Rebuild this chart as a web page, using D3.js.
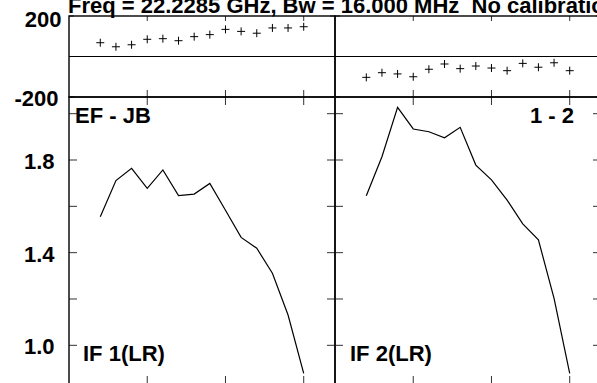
<!DOCTYPE html>
<html>
<head>
<meta charset="utf-8">
<script src="https://cdn.jsdelivr.net/npm/d3@7"></script>
<style>
  body { margin: 0; background: #fff; }
  svg { display: block; }
  text { font-family: "Liberation Sans", Arial, sans-serif; font-weight: bold; fill: #000; }
</style>
</head>
<body>
<div id="chart"></div>
<script>
// channel numbers (2..15) plotted in each IF panel
const channels = [2, 3, 4, 5, 6, 7, 8, 9, 10, 11, 12, 13, 14, 15];

// phase (deg)
const phaseIF1 = [68, 48, 58, 85, 88, 78, 98, 108, 134, 124, 115, 141, 141, 147];
const phaseIF2 = [-103, -80, -86, -100, -63, -37, -60, -47, -57, -70, -34, -53, -31, -70];

// amplitude
const ampIF1 = [1.555, 1.711, 1.764, 1.678, 1.757, 1.646, 1.653, 1.699, 1.583, 1.466, 1.419, 1.311, 1.131, 0.879];
const ampIF2 = [1.646, 1.814, 2.027, 1.934, 1.922, 1.896, 1.941, 1.778, 1.714, 1.627, 1.524, 1.455, 1.203, 0.879];

const phaseTicks = [-200, 200];
const ampTicks = [1.0, 1.2, 1.4, 1.6, 1.8, 2.0];
const ampLabels = [1.0, 1.4, 1.8];
const chanTicks = [5, 10, 15];

const panelNames = ["IF 1(LR)", "IF 2(LR)"];
const title = "Freq = 22.2285 GHz, Bw = 16.000 MHz  No calibration applied";

const W = 597, H = 383;
const svg = d3.select("#chart").append("svg")
  .attr("width", W).attr("height", H);

// layout
const left = 69, panelW = 266;
const phTop = 16, phBot = 97, ampBot = 384;

const yPh = d3.scaleLinear().domain([-200, 200]).range([phBot, phTop]);
const yAmp = d3.scaleLinear().domain([0.833, 2.072]).range([ampBot, phBot]);

// title (top is clipped in the original plot)
svg.append("text")
  .attr("x", 68).attr("y", 12.5)
  .style("font-size", "22px")
  .style("white-space", "pre")
  .text(title);

const panels = [
  { phase: phaseIF1, amp: ampIF1, name: panelNames[0] },
  { phase: phaseIF2, amp: ampIF2, name: panelNames[1] }
];

panels.forEach((p, i) => {
  const x0 = left + i * panelW;
  const x = d3.scaleLinear().domain([0, 17]).range([x0, x0 + panelW]);
  const g = svg.append("g");

  // ticks - channel axis
  const tickG = g.append("g").attr("stroke", "#333").attr("stroke-width", 1);
  chanTicks.forEach(c => {
    tickG.append("line").attr("x1", x(c)).attr("x2", x(c)).attr("y1", phTop).attr("y2", phTop + 5);
    tickG.append("line").attr("x1", x(c)).attr("x2", x(c)).attr("y1", phBot).attr("y2", phBot - 7);
    tickG.append("line").attr("x1", x(c)).attr("x2", x(c)).attr("y1", phBot).attr("y2", phBot + 8);
    tickG.append("line").attr("x1", x(c)).attr("x2", x(c)).attr("y1", ampBot).attr("y2", ampBot - 8);
  });
  // value ticks on both sides
  phaseTicks.forEach(v => {
    tickG.append("line").attr("x1", x0).attr("x2", x0 + 5).attr("y1", yPh(v)).attr("y2", yPh(v));
    tickG.append("line").attr("x1", x0 + panelW).attr("x2", x0 + panelW - 5).attr("y1", yPh(v)).attr("y2", yPh(v));
  });
  ampTicks.forEach(v => {
    tickG.append("line").attr("x1", x0).attr("x2", x0 + 8).attr("y1", yAmp(v)).attr("y2", yAmp(v));
    tickG.append("line").attr("x1", x0 + panelW).attr("x2", x0 + panelW - 8).attr("y1", yAmp(v)).attr("y2", yAmp(v));
  });

  // frames
  g.append("rect").attr("x", x0).attr("y", phTop).attr("width", panelW).attr("height", phBot - phTop)
    .attr("fill", "none").attr("stroke", "#000").attr("stroke-width", 1.4);
  g.append("rect").attr("x", x0).attr("y", phBot).attr("width", panelW).attr("height", ampBot - phBot)
    .attr("fill", "none").attr("stroke", "#000").attr("stroke-width", 1.4);

  // zero phase line
  g.append("line").attr("x1", x0).attr("x2", x0 + panelW)
    .attr("y1", yPh(0)).attr("y2", yPh(0))
    .attr("stroke", "#000").attr("stroke-width", 1.1);

  // phase pluses
  g.selectAll(".ph").data(p.phase).enter().append("path")
    .attr("transform", (d, k) => "translate(" + x(channels[k]) + "," + yPh(d) + ")")
    .attr("d", "M-4,0H4M0,-4V4")
    .attr("stroke", "#000").attr("stroke-width", 1).attr("fill", "none");

  // amplitude line
  const line = d3.line().x((d, k) => x(channels[k])).y(d => yAmp(d));
  g.append("path").datum(p.amp).attr("d", line)
    .attr("fill", "none").attr("stroke", "#000").attr("stroke-width", 1.2);

  // panel label
  g.append("text").attr("x", x0 + (i === 0 ? 14 : 15)).attr("y", 361)
    .style("font-size", "22px").text(p.name);
});

// y axis labels
const lab = svg.append("g").style("font-size", "22px").attr("text-anchor", "end");
lab.append("text").attr("x", 61.5).attr("y", yPh(200) + 10.5).text("200");
lab.append("text").attr("x", 58.5).attr("y", yPh(-200) + 9).text("-200");
ampLabels.forEach(v => {
  lab.append("text").attr("x", 54.5).attr("y", yAmp(v) + 9).text(v.toFixed(1));
});

// baseline / source labels
svg.append("text").attr("x", 75).attr("y", 123).style("font-size", "22px").text("EF - JB");
svg.append("text").attr("x", 574).attr("y", 123).attr("text-anchor", "end")
  .style("font-size", "22px").text("1 - 2");
</script>
</body>
</html>
